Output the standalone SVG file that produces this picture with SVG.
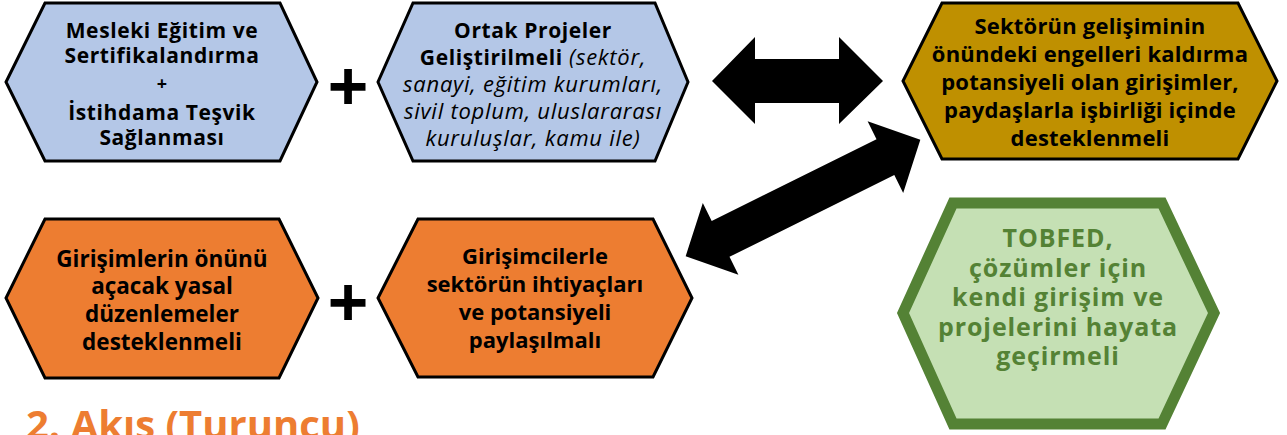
<svg xmlns="http://www.w3.org/2000/svg" width="1287" height="435" viewBox="0 0 1287 435">
<style>
.hex{stroke:#000;stroke-width:3;stroke-linejoin:miter}
.blue{fill:#B4C7E7}
.orange{fill:#ED7D31}
.gold{fill:#BF9000}
.green{fill:#C5E0B4;stroke:#548235;stroke-width:11}
.t{font-family:"Open Sans","Liberation Sans",sans-serif;font-weight:bold;text-anchor:middle;fill:#000;font-size:22px}
.s{font-size:21px;letter-spacing:0.6px}
.it{font-weight:normal;font-style:italic;font-size:22px;letter-spacing:0.75px}
.g{fill:#548235;font-size:25px;letter-spacing:0.9px}
.plus{font-family:"Open Sans","Liberation Sans",sans-serif;font-weight:bold;font-size:72px;text-anchor:middle;fill:#000}
.arrow{fill:#000}
</style>
<g id="node-mesleki">
<polygon class="hex blue" points="45,3 280,3 317,82 280,161 45,161 6,82"/>
<text class="t s" x="162" y="38">Mesleki Eğitim ve</text>
<text class="t s" x="162" y="63">Sertifikalandırma</text>
<text class="t" style="font-size:18px" x="162" y="90">+</text>
<text class="t s" x="162" y="120">İstihdama Teşvik</text>
<text class="t s" x="162" y="145">Sağlanması</text>
</g>
<g id="plus-1"><text class="plus" x="348" y="112">+</text></g>
<g id="node-ortak">
<polygon class="hex blue" points="413,3 655,3 688,82 655,161 413,161 378,82"/>
<text class="t s" x="533" y="38">Ortak Projeler</text>
<text class="t s" x="533" y="65">Geliştirilmeli <tspan class="it">(sektör,</tspan></text>
<text class="t it" x="533" y="92">sanayi, eğitim kurumları,</text>
<text class="t it" x="533" y="119">sivil toplum, uluslararası</text>
<text class="t it" x="533" y="146">kuruluşlar, kamu ile)</text>
</g>
<g id="node-sektor">
<polygon class="hex gold" points="942,3 1238,3 1277,81 1238,159 942,159 903,81"/>
<text class="t" style="letter-spacing:0.2px" x="1090" y="34">Sektörün gelişiminin</text>
<text class="t" style="letter-spacing:0.2px" x="1090" y="62">önündeki engelleri kaldırma</text>
<text class="t" style="letter-spacing:0.2px" x="1090" y="90">potansiyeli olan girişimler,</text>
<text class="t" style="letter-spacing:0.2px" x="1090" y="118">paydaşlarla işbirliği içinde</text>
<text class="t" style="letter-spacing:0.2px" x="1090" y="146">desteklenmeli</text>
</g>
<g id="node-girisimlerin">
<polygon class="hex orange" points="45,219 279,219 318,298 279,378 45,378 6,298"/>
<text class="t" style="font-size:22.5px" x="162" y="267">Girişimlerin önünü</text>
<text class="t" style="font-size:22.5px" x="162" y="294">açacak yasal</text>
<text class="t" style="font-size:22.5px" x="162" y="322">düzenlemeler</text>
<text class="t" style="font-size:22.5px" x="162" y="350">desteklenmeli</text>
</g>
<g id="plus-2"><text class="plus" x="348" y="328">+</text></g>
<g id="node-girisimcilerle">
<polygon class="hex orange" points="418,219 653,219 692,298 653,377 418,377 378,298"/>
<text class="t" x="535" y="264">Girişimcilerle</text>
<text class="t" x="535" y="292">sektörün ihtiyaçları</text>
<text class="t" x="535" y="320">ve potansiyeli</text>
<text class="t" x="535" y="348">paylaşılmalı</text>
</g>
<g id="node-tobfed">
<polygon class="green" points="953,203 1162,203 1214,313 1162,424 953,424 903,313"/>
<text class="t g" x="1058" y="247">TOBFED,</text>
<text class="t g" x="1058" y="276.5">çözümler için</text>
<text class="t g" x="1058" y="306">kendi girişim ve</text>
<text class="t g" x="1058" y="335.5">projelerini hayata</text>
<text class="t g" x="1058" y="365">geçirmeli</text>
</g>
<g id="connectors">
<polygon class="arrow" points="712,81 755,37 755,59 839,59 839,37 883,81 839,124 839,103 755,103 755,124"/>
<polygon class="arrow" transform="translate(803,198) rotate(-26.4)" points="-131,0 -92,-40 -92,-20 92,-20 92,-40 131,0 92,40 92,20 -92,20 -92,40"/>
</g>
<text id="title" x="26" y="439" font-family="'Open Sans','Liberation Sans',sans-serif" font-weight="bold" font-size="40" fill="#ED7D31">2. Akış (Turuncu)</text>
</svg>
